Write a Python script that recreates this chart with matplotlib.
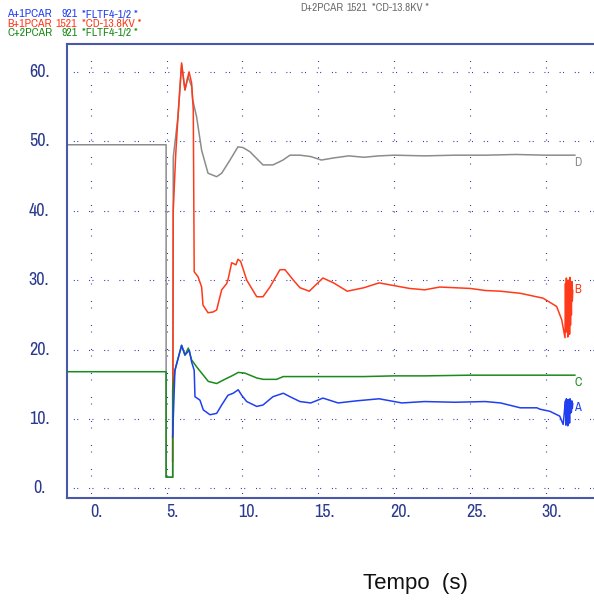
import matplotlib
matplotlib.use("Agg")
import matplotlib.pyplot as plt
from matplotlib import font_manager as fm
from matplotlib.transforms import blended_transform_factory, ScaledTranslation

plt.rcParams['lines.scale_dashes'] = False

# narrow face for the recorder-style labels
names = {f.name for f in fm.fontManager.ttflist}
prefs = ['Liberation Sans Narrow', 'Arial Narrow', 'Archivo Narrow', 'PT Sans Narrow',
         'Roboto Condensed', 'Liberation Sans']
NARROW = next((p for p in prefs if p in names), 'DejaVu Sans')

# curve A (blue)
a_x = [5.40, 5.55, 5.99, 6.21, 6.50, 6.65, 6.82, 6.87, 7.20, 7.42, 7.86, 8.30, 8.63, 9.04,
       9.39, 9.72, 9.95, 10.28, 10.94, 11.35, 12.01, 12.69, 13.13, 13.79, 14.5, 15.3, 16.3,
       17.5, 19.0, 20.5, 22.0, 24.0, 26.0, 27.0, 28.3, 29.4, 29.6, 30.25, 30.9, 31.13, 31.25]
a_y = [7.4, 17.0, 20.6, 19.2, 19.9, 18.2, 17.0, 13.2, 12.7, 11.3, 10.6, 10.8, 12.0, 13.4,
       13.7, 14.2, 13.4, 12.5, 11.8, 12.0, 13.2, 13.7, 13.2, 12.5, 12.3, 13.0, 12.3,
       12.6, 12.9, 12.3, 12.5, 12.4, 12.5, 12.3, 11.6, 11.6, 11.4, 11.1, 10.4, 9.2, 12.0]

# curve B (red)
b_x = [5.40, 5.42, 5.44, 5.60, 5.75, 5.99, 6.21, 6.48, 6.65, 6.76, 6.82, 7.07, 7.31, 7.40,
       7.73, 8.06, 8.30, 8.63, 8.96, 9.04, 9.29, 9.57, 9.70, 9.88, 10.28, 10.94, 11.35, 11.81,
       12.47, 12.80, 13.35, 13.79, 14.4, 15.3, 16.0, 16.9, 18.0, 19.0, 20.0, 21.0, 22.0, 23.0,
       24.0, 25.0, 26.0, 27.0, 28.3, 29.8, 30.7, 31.03, 31.25]
b_y = [3.9, 22.0, 40.0, 48.0, 53.5, 61.3, 57.4, 60.0, 58.4, 54.5, 31.2, 30.5, 29.0, 26.4,
       25.3, 25.4, 25.7, 28.6, 29.5, 30.0, 32.5, 32.2, 33.0, 32.7, 30.0, 27.6, 27.6, 29.0,
       31.5, 31.5, 30.0, 28.9, 28.4, 30.3, 29.6, 28.4, 28.9, 29.6, 29.2, 28.8, 28.6, 29.0,
       28.9, 28.8, 28.5, 28.4, 28.1, 27.4, 26.2, 24.3, 21.7]

# end-of-record oscillation (A and B)
osc_x = [31.28, 31.31, 31.34, 31.37, 31.40, 31.43, 31.46, 31.49, 31.52, 31.55, 31.58,
         31.61, 31.64, 31.67, 31.70, 31.73, 31.76]
a_osc = [12.6, 9.1, 12.9, 10.0, 12.2, 9.0, 12.8, 10.5, 12.4, 9.4, 12.9, 10.8, 12.0, 11.0,
         12.6, 11.5, 12.2]
b_osc = [29.5, 22.5, 30.3, 23.0, 28.5, 21.8, 30.0, 24.5, 29.0, 22.2, 30.4, 23.5, 28.0, 25.0,
         29.8, 27.0, 28.5]

# curve C (green)
c_x = [-1.6, 4.97, 4.97, 5.40, 5.40, 5.55, 5.77, 5.99, 6.21, 6.43, 6.65, 6.98, 7.31, 7.75,
       8.30, 8.74, 9.39, 9.72, 10.16, 10.94, 11.37, 12.25, 12.69, 13.79, 16.0, 18.0, 20.0,
       22.0, 25.0, 28.0, 31.9]
c_y = [16.8, 16.8, 1.6, 1.6, 14.2, 17.0, 18.8, 20.6, 19.2, 20.2, 18.5, 17.5, 16.6, 15.4,
       15.1, 15.6, 16.3, 16.7, 16.6, 15.9, 15.7, 15.7, 16.1, 16.1, 16.1, 16.1, 16.2,
       16.2, 16.3, 16.3, 16.3]

# curve D (gray)
d_x = [-1.6, 4.97, 4.97, 5.42, 5.44, 5.75, 5.99, 6.21, 6.41, 6.65, 6.72, 6.98, 7.31, 7.73,
       8.30, 8.63, 9.18, 9.70, 10.03, 10.49, 11.35, 12.01, 12.67, 13.13, 13.79, 14.5, 15.2,
       16.0, 17.0, 18.0, 19.0, 20.0, 22.0, 24.0, 26.0, 28.0, 30.0, 31.9]
d_y = [49.5, 49.5, 1.6, 1.6, 47.7, 53.5, 61.0, 57.4, 59.3, 57.9, 56.0, 53.5, 48.7, 45.4,
       44.9, 45.4, 47.3, 49.2, 49.1, 48.5, 46.6, 46.6, 47.3, 48.0, 48.0, 47.8, 47.3,
       47.6, 47.9, 47.7, 47.9, 48.0, 47.9, 48.0, 48.0, 48.1, 48.0, 48.0]

x_ticks = [0, 5, 10, 15, 20, 25, 30]
y_ticks = [0, 10, 20, 30, 40, 50, 60]

col_a, col_b, col_c, col_d = '#2040f0', '#ff3a1a', '#1a8a1a', '#8c8c8c'
frame = '#4a58a8'
dotc = '#2838a0'
FONT = [NARROW, 'DejaVu Sans']

fig = plt.figure(figsize=(5.94, 6.0), dpi=100)
ax = fig.add_axes([66.7 / 594, 1 - 498.3 / 600, 1 - 66.7 / 594, (498.3 - 44) / 600])
ax.set_xlim(-1.58, 33.16)
ax.set_ylim(-1.44, 64.02)

# dotted grid, drawn by hand to get the paired-dot look
for yv in y_ticks:
    ax.plot([-3.145, 34], [yv, yv], color=dotc, lw=0.8, dashes=(0.72, 1.73, 0.72, 7.76),
            dash_capstyle='butt', zorder=1)
for xv in x_ticks:
    ax.plot([xv, xv], [-1.686, 66], color=dotc, lw=0.8, dashes=(0.72, 3.96, 0.72, 11.88),
            dash_capstyle='butt', zorder=1)

ax.plot(d_x, d_y, color=col_d, lw=1.1, zorder=2)
ax.plot(b_x + osc_x, b_y + b_osc, color=col_b, lw=1.1, zorder=3)
ax.plot(c_x, c_y, color=col_c, lw=1.1, zorder=4)
ax.plot(a_x + osc_x, a_y + a_osc, color=col_a, lw=1.1, zorder=5)

# curve letters at the end of each record
for lab, yy, cc in [('D', 47.0, col_d), ('B', 28.6, col_b), ('C', 15.2, col_c), ('A', 11.7, col_a)]:
    ax.text(32.1, yy, lab, color=cc, fontsize=9, family=FONT, ha='center', va='center')

# frame
ax.spines['right'].set_visible(False)
for s in ['left', 'bottom', 'top']:
    ax.spines[s].set_color(frame)
    ax.spines[s].set_linewidth(1.5)
ax.set_xticks([])
ax.set_yticks([])

# tick labels (sit a little right of the grid lines, like the recorder output)
tx = blended_transform_factory(ax.transData, ax.transAxes)
off_x = tx + ScaledTranslation(6 / 100, -13.7 / 100, fig.dpi_scale_trans)
for xv in x_ticks:
    ax.text(xv, 0, f'{xv}.', transform=off_x, ha='center', va='center',
            fontsize=13, family=FONT, color='#2a3a90')
ty = blended_transform_factory(fig.transFigure, ax.transData)
for yv in y_ticks:
    fig.text(39 / 594, yv, f'{yv}.', ha='center', va='center', fontsize=13, family=FONT,
             color='#2a3a90', transform=ty)

# header lines
hdr = [('A+1PCAR', '921', '*FLTF4-1/2 *', col_a, 7, 77.3, 81.7, 14, 8.5),
       ('B+1PCAR', '1521', '*CD-13.8KV *', col_b, 7, 77.3, 81.7, 24, 8.5),
       ('C+2PCAR', '921', '*FLTF4-1/2 *', col_c, 7, 77.3, 81.7, 33, 8.5),
       ('D+2PCAR', '1521', '*CD-13.8KV *', '#707070', 300, 367, 372, 8, 8.2)]
for name, num, desc, cc, x0, x1, x2, yy, fs in hdr:
    fy = 1 - yy / 600
    fig.text(x0 / 594, fy, name, color=cc, fontsize=fs, family=FONT, ha='left', va='center')
    fig.text(x1 / 594, fy, num, color=cc, fontsize=fs, family=FONT, ha='right', va='center')
    fig.text(x2 / 594, fy, desc, color=cc, fontsize=fs, family=FONT, ha='left', va='center')

fig.text(415 / 594, 1 - 583 / 600, 'Tempo  (s)', fontsize=16, family='Liberation Sans',
         ha='center', va='center', color='#111111')

fig.savefig('out.png', dpi=100)
